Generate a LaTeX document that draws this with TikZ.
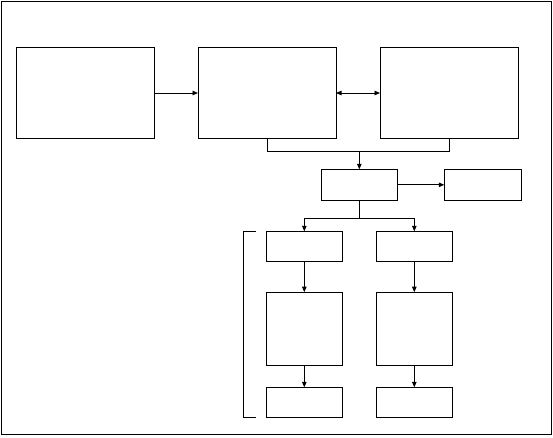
\documentclass[tikz,border=0pt]{standalone}
\usetikzlibrary{arrows.meta}
\begin{document}
\begin{tikzpicture}[x=1pt,y=-1pt,
  every path/.style={line width=0.8pt},
  box/.style={draw, inner sep=0pt, outer sep=0pt, line width=0.8pt},
  big/.style={box, minimum width=138pt, minimum height=91pt},
  small/.style={box, minimum width=76pt, minimum height=30pt},
  tall/.style={box, minimum width=76pt, minimum height=73pt},
  arr/.style={-{Triangle[length=5.5pt,width=4.5pt]}},
  darr/.style={{Triangle[length=5.5pt,width=4.5pt]}-{Triangle[length=5.5pt,width=4.5pt]}}]
\useasboundingbox (0,0) rectangle (553,437);
\draw (1,1) rectangle (551,434);
\node[big] (A) at (85,93) {};
\node[big] (B) at (267,93) {};
\node[big] (C) at (449,93) {};
\node[small, minimum height=31pt] (D) at (359.3,184.8) {};
\node[small, minimum width=77pt, minimum height=31pt] (E) at (482.8,184.8) {};
\node[small] (F1) at (304.3,246.3) {};
\node[small] (F2) at (414.3,246.3) {};
\node[tall] (G1) at (304.3,328.7) {};
\node[tall] (G2) at (414.3,328.7) {};
\node[small] (H1) at (304.3,402.3) {};
\node[small] (H2) at (414.3,402.3) {};
\coordinate (J) at (359.3,151.3);
\coordinate (K) at (359.3,218.3);
\coordinate (L1) at (255.7,231.3);
\coordinate (L2) at (243.7,231.3);
\coordinate (L3) at (243.7,417.3);
\coordinate (L4) at (255.7,417.3);
\draw[arr] (A.east) -- (B.west);
\draw[darr] (B.east) -- (C.west);
\draw (B.south) |- (J);
\draw (C.south) |- (J);
\draw[arr] (J) -- (D.north);
\draw[arr] (D.east) -- (E.west);
\draw (D.south) -- (K);
\draw[arr] (K) -| (F1.north);
\draw[arr] (K) -| (F2.north);
\draw[arr] (F1.south) -- (G1.north);
\draw[arr] (F2.south) -- (G2.north);
\draw[arr] (G1.south) -- (H1.north);
\draw[arr] (G2.south) -- (H2.north);
\draw (L1) -- (L2) -- (L3) -- (L4);
\end{tikzpicture}
\end{document}
